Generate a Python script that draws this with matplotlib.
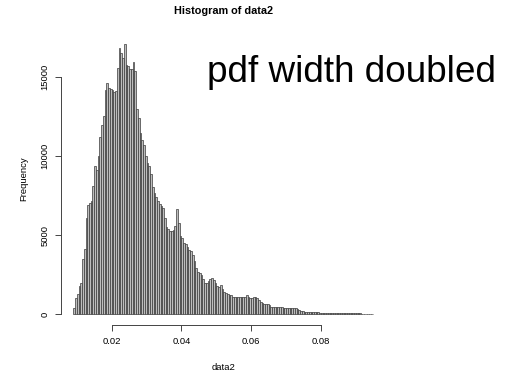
import numpy as np
import matplotlib
matplotlib.use("Agg")
import matplotlib.pyplot as plt

plt.rcParams['font.family'] = ['Liberation Sans', 'DejaVu Sans']

# histogram counts, bins of width 0.0005 starting at 0.009
bin_start = 0.009
bin_width = 0.0005
counts = [
    400, 1000, 1300, 1800, 2000, 3500, 4150, 6100, 6900, 7050,
    7200, 8150, 9400, 9150, 10000, 11200, 12000, 12550, 14200, 14650,
    14350, 14250, 14200, 14100, 14150, 15600, 16850, 16550, 16250, 17100,
    15800, 15700, 15550, 15550, 15950, 15400, 13000, 12400, 11460, 11000,
    10700, 10000, 9600, 9400, 8900, 8050, 7700, 7400, 7200, 7000,
    6850, 6700, 6100, 5500, 5380, 5250, 5250, 5350, 5600, 6650,
    5800, 4950, 4800, 4500, 4430, 4250, 4070, 4000, 3780, 3400,
    2900, 2650, 2590, 2500, 2250, 1960, 1950, 2100, 2230, 2280,
    2200, 1950, 1790, 1710, 1830, 1600, 1420, 1330, 1270, 1220,
    1190, 1120, 1110, 1100, 1100, 1090, 1080, 1100, 1090, 1200,
    1120, 1060, 1050, 1080, 1110, 1000, 900, 800, 720, 660,
    650, 630, 590, 480, 460, 450, 445, 440, 435, 430,
    425, 420, 415, 410, 405, 400, 390, 380, 340, 280,
    220, 180, 170, 168, 165, 163, 160, 158, 155, 150,
    130, 100, 95, 92, 90, 88, 86, 84, 82, 80,
    78, 76, 74, 72, 70, 68, 66, 64, 62, 60,
    58, 56, 55, 54, 52, 50, 49, 48, 46, 45,
    44, 42,
]
x_ticks = [0.02, 0.04, 0.06, 0.08]
x_tick_labels = ["0.02", "0.04", "0.06", "0.08"]
y_ticks = [0, 5000, 10000, 15000]
y_tick_labels = ["0", "5000", "10000", "15000"]

edges = bin_start + bin_width * np.arange(len(counts) + 1)

W, H = 510, 372
fig = plt.figure(figsize=(W / 100, H / 100), dpi=100)
ax = fig.add_axes([61.3 / W, (H - 325.1) / H, 324.0 / W, 291.8 / H])

ax.bar(edges[:-1], counts, width=bin_width, align='edge',
       color='#bdbdbd', edgecolor='#3a3a3a', linewidth=0.5)

# R-style extended ranges (4% padding)
xr = edges[-1] - edges[0]
ax.set_xlim(edges[0] - 0.04 * xr, edges[-1] + 0.04 * xr)
ymax = max(counts)
ax.set_ylim(-0.04 * ymax, 1.04 * ymax)

for s in ['top', 'right']:
    ax.spines[s].set_visible(False)
ax.spines['bottom'].set_bounds(x_ticks[0], x_ticks[-1])
ax.spines['left'].set_bounds(y_ticks[0], y_ticks[-1])
for s in ['bottom', 'left']:
    ax.spines[s].set_linewidth(0.7)
    ax.spines[s].set_color('#444444')

ax.set_xticks(x_ticks)
ax.set_xticklabels(x_tick_labels)
ax.set_yticks(y_ticks)
ax.set_yticklabels(y_tick_labels, rotation=90, va='center')
ax.tick_params(length=4.5, width=0.7, color='#444444', labelsize=6.8, pad=4)

fig.text(223.3 / W, 1 - 11 / H, "Histogram of data2", ha='center', va='center',
         fontsize=7.8, fontweight='bold')
fig.text(223.3 / W, 1 - 367 / H, "data2", ha='center', va='center', fontsize=6.8)
fig.text(23.5 / W, 1 - 179 / H, "Frequency", ha='center', va='center',
         rotation=90, fontsize=6.8)
fig.text(207 / W, 1 - 82 / H, "pdf width doubled", ha='left', va='baseline',
         fontsize=26.6)

fig.savefig("out.png", dpi=100)
